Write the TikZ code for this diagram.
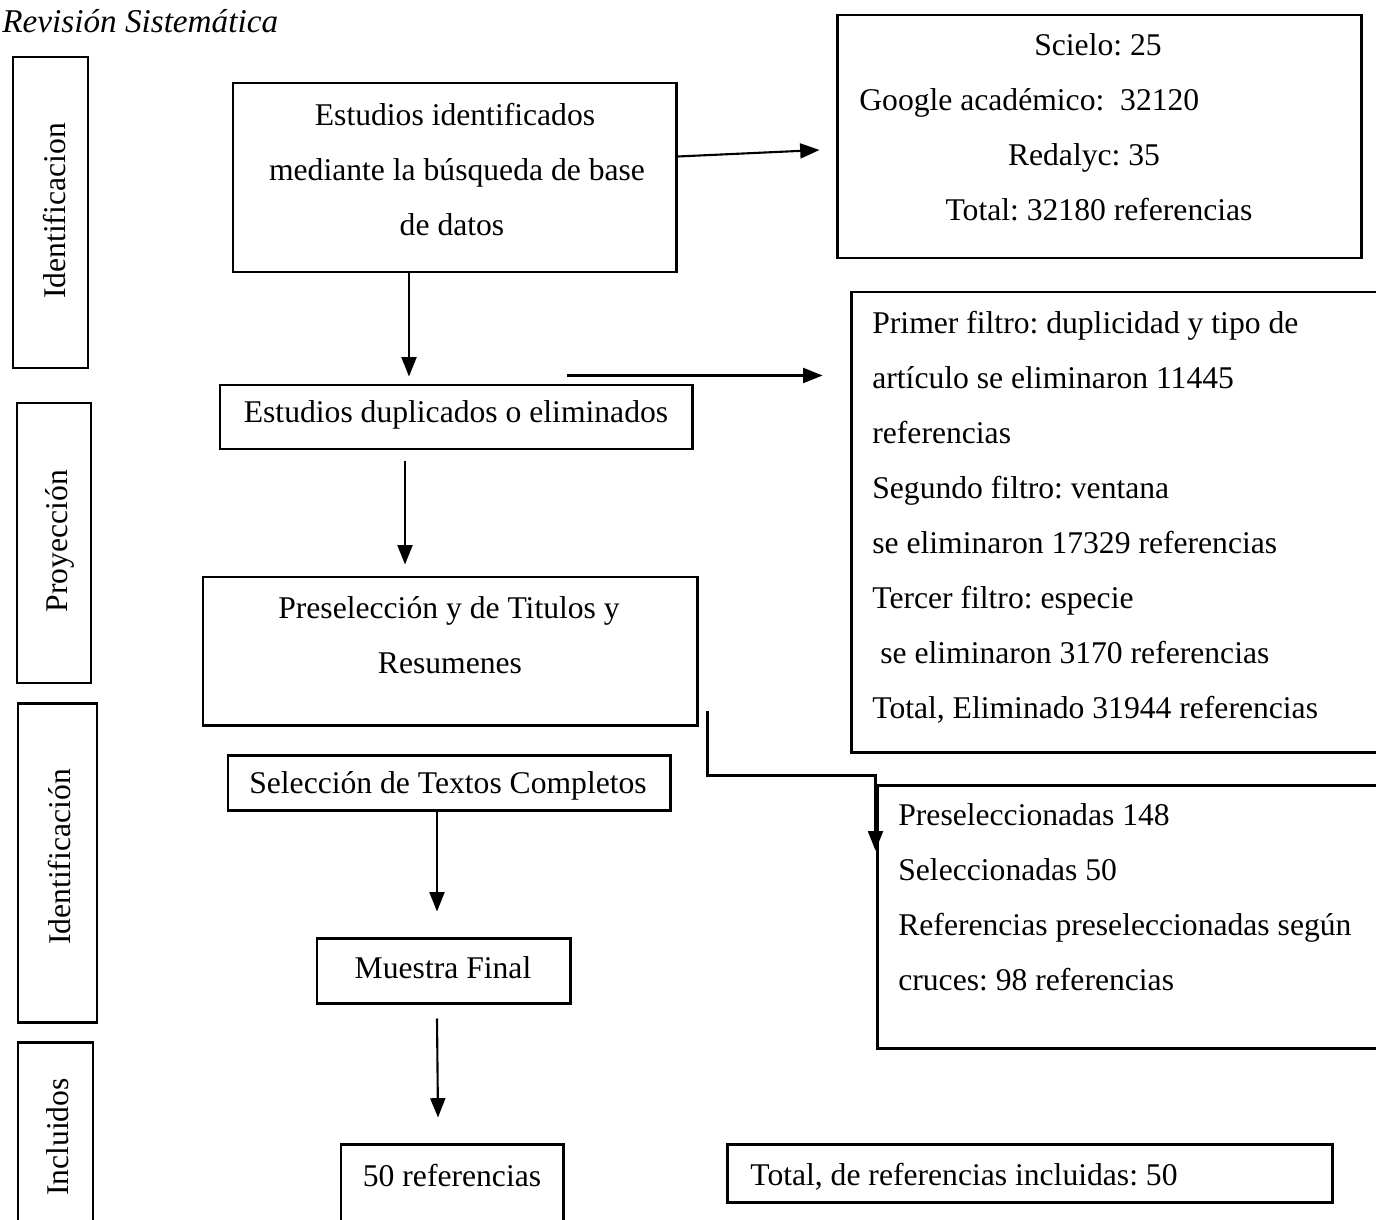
\documentclass[tikz,border=0pt]{standalone}
\usepackage{fontspec}
\setmainfont{Liberation Serif}
\usetikzlibrary{arrows.meta,fit,calc}
\begin{document}
\frenchspacing
\begin{tikzpicture}[x=0.02cm,y=-0.02cm,
  box/.style={draw,line width=1.7pt,inner sep=0pt},
  txt/.style={font=\fontsize{18}{20}\selectfont,inner sep=0pt},
  ln/.style={txt,yshift=-0.12cm},
  arr/.style={line width=1.2pt,-{Triangle[length=11pt,width=8.5pt]}}]
\useasboundingbox (0,0) rectangle (1376,1220);
\clip (0,0) rectangle (1376,1220);

\node[txt,anchor=mid west,font=\fontsize{18.9}{20}\selectfont\itshape] (title) at (2,28) {Revisión Sistemática};

% side phase boxes
\node[box,fit={(13,57)(88,368)}] (s1) {};
\node[txt,rotate=90] (s1t) at (55,211) {Identificacion};
\node[box,fit={(17,403)(91,683)}] (s2) {};
\node[txt,rotate=90] (s2t) at (60,541) {Proyección};
\node[box,fit={(18,703)(97,1022)}] (s3) {};
\node[txt,rotate=90] (s3t) at (60,857) {Identificación};
\node[box,fit={(18,1042)(93,1240)}] (s4) {};
\node[txt,rotate=90] (s4t) at (58,1137) {Incluidos};

% main boxes
\node[box,fit={(233,83)(676,272)}] (A) {};
\node[ln,anchor=mid] (A1) at (455,115) {Estudios identificados};
\node[ln,anchor=mid] (A2) at (457,170) {mediante la búsqueda de base};
\node[ln,anchor=mid] (A3) at (452,225) {de datos};

\node[box,fit={(837,15)(1361,258)}] (B) {};
\node[ln,anchor=mid] (B1) at (1098,45) {Scielo: 25};
\node[ln,anchor=mid west] (B2) at (859,100) {Google académico:\ \ 32120};
\node[ln,anchor=mid] (B3) at (1084,155) {Redalyc: 35};
\node[ln,anchor=mid] (B4) at (1099,210) {Total: 32180 referencias};

\node[box,fit={(220,385)(692,449)}] (C) {};
\node[ln,anchor=mid] (C1) at (456,412) {Estudios duplicados o eliminados};

\node[box,fit={(851,292)(1400,752)}] (D) {};
\node[ln,anchor=mid west] (D1) at (872,323) {Primer filtro: duplicidad y tipo de};
\node[ln,anchor=mid west] (D2) at (872,378) {artículo se eliminaron 11445};
\node[ln,anchor=mid west] (D3) at (872,433) {referencias};
\node[ln,anchor=mid west] (D4) at (872,488) {Segundo filtro: ventana};
\node[ln,anchor=mid west] (D5) at (872,543) {se eliminaron 17329 referencias};
\node[ln,anchor=mid west] (D6) at (872,598) {Tercer filtro: especie};
\node[ln,anchor=mid west] (D7) at (880,653) {se eliminaron 3170 referencias};
\node[ln,anchor=mid west] (D8) at (872,708) {Total, Eliminado 31944 referencias};

\node[box,fit={(203,577)(697,725)}] (E) {};
\node[ln,anchor=mid] (E1) at (449,608) {Preselección y de Titulos y};
\node[ln,anchor=mid] (E2) at (450,663) {Resumenes};

\node[box,fit={(228,755)(670,810)}] (G) {};
\node[ln,anchor=mid] (G1) at (448,783) {Selección de Textos Completos};

\node[box,fit={(877,785)(1400,1048)}] (F) {};
\node[ln,anchor=mid west] (F1) at (898,815) {Preseleccionadas 148};
\node[ln,anchor=mid west] (F2) at (898,870) {Seleccionadas 50};
\node[ln,anchor=mid west] (F3) at (898,925) {Referencias preseleccionadas según};
\node[ln,anchor=mid west] (F4) at (898,980) {cruces: 98 referencias};

\node[box,fit={(317,938)(570,1003)}] (H) {};
\node[ln,anchor=mid] (H1) at (443,968) {Muestra Final};

\node[box,fit={(341,1144)(563,1240)}] (R) {};
\node[ln,anchor=mid] (R1) at (452,1176) {50 referencias};

\node[box,fit={(727,1144)(1332,1202)}] (T) {};
\node[ln,anchor=mid west] (T1) at (750,1175) {Total, de referencias incluidas: 50};

% connectors
\draw[arr] ($(A.north east)+(0,75)$) -- ($(B.west)+(-16,13.5)$);
\draw[arr] ($(A.south)+(-45.5,0)$) -- ($(C.north)+(-47,-7)$);
\coordinate (cstart) at ($(C.north)+(111,-8)$);
\coordinate (dend) at ($(D.north west)+(-27,85)$);
\draw[arr] (cstart) -- (dend);
\draw[arr] ($(C.south)+(-51,11)$) -- ($(E.north)+(-45,-11)$);
\draw[arr] ($(E.south east)+(9,-16)$) |- ($(F.north west)+(0,-8)$) -- ($(F.north west)+(0,67)$);
\draw[arr] ($(G.south)+(-12,0)$) -- ($(H.north)+(-6.5,-25)$);
\draw[arr] ($(H.south)+(-6.5,14)$) -- ($(R.north)+(-14,-25)$);
\end{tikzpicture}
\end{document}
